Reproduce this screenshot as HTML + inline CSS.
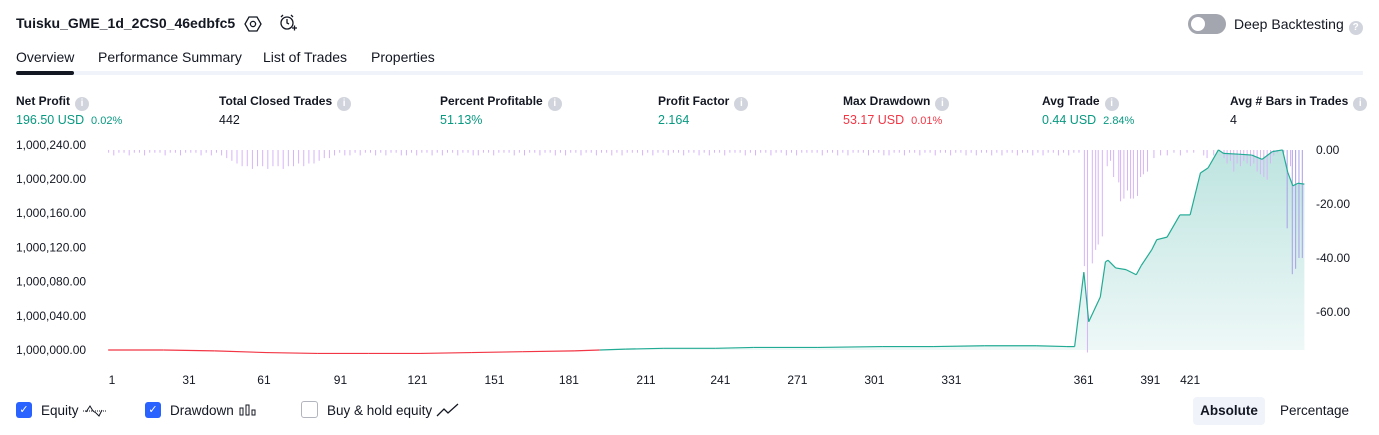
<!DOCTYPE html>
<html><head><meta charset="utf-8">
<style>
body{margin:0;width:1379px;height:435px;background:#fff;font-family:"Liberation Sans","DejaVu Sans",sans-serif;color:#131722;overflow:hidden;position:relative}
.abs{position:absolute;white-space:nowrap}
.title{left:16px;top:15px;font-size:14px;font-weight:bold}
.tab{top:49px;font-size:14px;color:#131722}
.lbl{top:94px;font-size:12px;font-weight:bold;color:#131722}
.val{top:113px;font-size:12.5px}
.info{display:inline-block;width:14px;height:14px;border-radius:50%;background:#d1d4dc;color:#fff;font-size:10px;text-align:center;line-height:14px;margin-left:5px;vertical-align:-1px;font-weight:bold}
.g{color:#089981}.r{color:#f23645}
.cb{width:16px;height:16px;border-radius:3px;display:inline-block;vertical-align:middle;margin-right:9px;margin-top:-3px}
.leg{top:402px;font-size:13.5px;line-height:18px}
</style></head><body>
<div class="abs title">Tuisku_GME_1d_2CS0_46edbfc5</div>
<svg class="abs" style="left:244px;top:15px" width="18" height="18"><polygon points="5,2 13,2 17,9 13,16 5,16 1,9" fill="none" stroke="#131722" stroke-width="1.3"/><circle cx="9" cy="9" r="2.6" fill="none" stroke="#131722" stroke-width="1.3"/></svg>
<svg class="abs" style="left:278px;top:13px" width="20" height="20"><circle cx="9" cy="10" r="6" fill="none" stroke="#131722" stroke-width="1.3"/><path d="M9 6v4l2 1M3 4l2-2M15 4l-2-2M14 15h5M16.5 12.5v5" stroke="#131722" stroke-width="1.3" fill="none"/></svg>
<div class="abs" style="left:1188px;top:14px;width:38px;height:20px;border-radius:10px;background:#a3a6af"><div style="position:absolute;left:3px;top:3px;width:14px;height:14px;border-radius:50%;background:#fff"></div></div>
<div class="abs" style="left:1234px;top:16px;font-size:14px">Deep Backtesting<span class="info">?</span></div>

<div class="abs tab" style="left:16px">Overview</div>
<div class="abs tab" style="left:98px">Performance Summary</div>
<div class="abs tab" style="left:263px">List of Trades</div>
<div class="abs tab" style="left:371px">Properties</div>
<div class="abs" style="left:16px;top:71px;width:1347px;height:4px;background:#f0f3fa"></div>
<div class="abs" style="left:16px;top:71px;width:58px;height:4px;border-radius:2px;background:#131722"></div>

<div class="abs lbl" style="left:16px">Net Profit<span class="info">i</span></div>
<div class="abs val g" style="left:16px">196.50 USD&nbsp; <span style="font-size:11px">0.02%</span></div>
<div class="abs lbl" style="left:219px">Total Closed Trades<span class="info">i</span></div>
<div class="abs val" style="left:219px">442</div>
<div class="abs lbl" style="left:440px">Percent Profitable<span class="info">i</span></div>
<div class="abs val g" style="left:440px">51.13%</div>
<div class="abs lbl" style="left:658px">Profit Factor<span class="info">i</span></div>
<div class="abs val g" style="left:658px">2.164</div>
<div class="abs lbl" style="left:843px">Max Drawdown<span class="info">i</span></div>
<div class="abs val r" style="left:843px">53.17 USD&nbsp; <span style="font-size:11px">0.01%</span></div>
<div class="abs lbl" style="left:1042px">Avg Trade<span class="info">i</span></div>
<div class="abs val g" style="left:1042px">0.44 USD&nbsp; <span style="font-size:11px">2.84%</span></div>
<div class="abs lbl" style="left:1230px">Avg # Bars in Trades<span class="info">i</span></div>
<div class="abs val" style="left:1230px">4</div>

<svg id="chart" class="abs" style="left:0;top:0" width="1379" height="400">
<defs><linearGradient id="fillg" x1="0" y1="0" x2="0" y2="1"><stop offset="0" stop-color="#26a69a" stop-opacity="0.3"/><stop offset="1" stop-color="#26a69a" stop-opacity="0.08"/></linearGradient></defs>
</svg>

<div class="abs leg" style="left:16px"><span class="cb" style="background:#2962ff;color:#fff;font-size:11px;text-align:center;line-height:16px">✓</span>Equity <svg width="26" height="14" style="vertical-align:-2px"><path d="M1 8h24" stroke="#131722" stroke-dasharray="1 1"/><path d="M4 9l4-6 3 5 3 2 3 3 3-6" fill="none" stroke="#131722"/></svg></div>
<div class="abs leg" style="left:145px"><span class="cb" style="background:#2962ff;color:#fff;font-size:11px;text-align:center;line-height:16px">✓</span>Drawdown <svg width="20" height="14" style="vertical-align:-2px"><rect x="2" y="5" width="3" height="7" fill="none" stroke="#131722"/><rect x="8" y="2" width="3" height="10" fill="none" stroke="#131722"/><rect x="14" y="7" width="3" height="5" fill="none" stroke="#131722"/></svg></div>
<div class="abs leg" style="left:301px"><span class="cb" style="border:1px solid #b2b5be;width:15px;height:15px"></span>Buy &amp; hold equity <svg width="24" height="14" style="vertical-align:-2px"><path d="M1 13l7-7 4 4 10-9" fill="none" stroke="#131722" stroke-width="1.3"/></svg></div>
<div class="abs" style="left:1193px;top:397px;width:72px;height:28px;border-radius:4px;background:#f0f3fa;font-size:13.5px;font-weight:bold;text-align:center;line-height:28px">Absolute</div>
<div class="abs" style="left:1280px;top:403px;font-size:13.5px">Percentage</div>

<script>
const leftTicks=[0,40,80,120,160,200,240];
const leftTickLabels=["1,000,000.00","1,000,040.00","1,000,080.00","1,000,120.00","1,000,160.00","1,000,200.00","1,000,240.00"];
const rightTicks=[0,-20,-40,-60];
const xTickLabels=["1","31","61","91","121","151","181","211","241","271","301","331","361","391","421"];
const xTickTimes=[0,30,59.2,89,119,149,178,208,237,267,297,327,378.5,404.5,420];
const eqTimes=[-1.5,20,40,60,80,100,120,140,160,180,190,200,215,235,250,275,300,320,340,360,372,375,378.6,380.5,385,387,388,391,395,399,401,405,407,411,416,420,424,427,431,433,439,444,448,452,456,458,460,462,464.5];
const eqValues=[0,0,-1,-3,-4,-4,-4,-3,-2,-1,0,1,2,2,3,3,4,4,5,5,4,4,91,33,62,103,105,96,94,88,99,117,129,132,158,158,207,213,234,230,229,228,223,232,234,208,192,195,194];
const ddBase=[1,2,1,1,2,1,1,2,1,1,1,2,1,1,2,1,1,1,2,1,2,1,2,3,
4,5,6,6,7,6,6,7,6,6,7,6,6,5,6,5,5,4,3,3,
2,1,2,2,1,2,1,1,2,1,2,1,1,2,2,1,2,1,1,2,1,2,1,1,2,1,1,2,2,1,1,2,1,1,1,2,1,2,1,1,2,1,1,2,1,2,1,1,2,1,1,2,1,1,2,1,2,1,1,1,2,1,2,1,1,2,1,1,2,1,1,2,1,2,1,1,2,1,1,1,2,1,2,1,1,2,1,1,2,1,2,1,1,1,1,2,1,1,2,1,2,1,1,1,2,1,1,2,2,1,1,2,1,1,2,1,1,2,1,1,2,1,1,2,1,
2,1,1,2,1,2,1,1,2,1,1,2,1,2,1,1,2,1,2,1,1,2,1,1];
const ddTimes=[],ddValues=[];
for(let i=0;i<ddBase.length;i++){ddTimes.push(-1.5+i*2);ddValues.push(-ddBase[i]);}
const ddTailTimes=[378.6,379.8,381.7,383,384,385.6,387.5,388.8,390,392,392.7,394,395.4,396.6,397.7,399.3,400.5,401.6,403.2,405.7,408.3,410.9,413.5,416,418.6,421.2,425.1,426.4,429,433,434.2,435.5,436.8,438.1,439.4,440.7,442,443.3,444.6,445.9,447.2,448.5,449.8,451.1,452.4,453.7,456.3,457.6,458.9,459.6,460.9,462.2,463.5];
const ddTailValues=[-43,-75,-42,-37,-35,-32,-6,-4,-10,-12,-19,-18,-15,-18,-18,-17,-10,-9,-8,-3,-2,-2,-1,-2,-1,-1,-2,-3,-2,-3,-5,-4,-8,-5,-6,-4,-5,-6,-5,-8,-9,-10,-11,-5,-2,-1,-1,-29,-6,-46,-44,-40,-40];

const NS="http://www.w3.org/2000/svg";
const svg=document.getElementById('chart');
const X=t=>112+t*2.567;
const YL=v=>350-v*34.2/40;
const YR=d=>150-d*2.7;
function mk(tag,attrs){const e=document.createElementNS(NS,tag);for(const k in attrs)e.setAttribute(k,attrs[k]);svg.appendChild(e);return e;}

leftTicks.forEach((v,i)=>{const t=mk('text',{x:16,y:YL(v)+4,'font-size':12,fill:'#131722'});t.textContent=leftTickLabels[i];

});
rightTicks.forEach(v=>{const t=mk('text',{x:1316,y:YR(v)+4,'font-size':12,fill:'#131722'});t.textContent=v.toFixed(2);

});
xTickLabels.forEach((l,i)=>{const t=mk('text',{x:X(xTickTimes[i]),y:384,'font-size':12,fill:'#131722','text-anchor':'middle'});t.textContent=l;

});

let d='M'+X(eqTimes[0])+' '+YL(0);
eqTimes.forEach((t,i)=>{d+=' L'+X(t)+' '+Math.min(YL(eqValues[i]),YL(0));});
d+=' L'+X(eqTimes[eqTimes.length-1])+' '+YL(0)+' Z';
const area=mk('path',{d:d,fill:'url(#fillg)'});



const allT=ddTimes.concat(ddTailTimes),allV=ddValues.concat(ddTailValues);
allT.forEach((t,i)=>{if(t>377.5&&i<ddTimes.length)return;const y0=YR(0),y1=YR(allV[i]);const r=mk('rect',{x:X(t),y:y0,width:1,height:Math.max(1,y1-y0),fill:t>455&&allV[i]<-20?'#a89ee8':'#d6b4f7'});

});

for(let i=1;i<eqTimes.length;i++){const v=(eqValues[i]+eqValues[i-1])/2;
const l=mk('line',{x1:X(eqTimes[i-1]),y1:YL(eqValues[i-1]),x2:X(eqTimes[i]),y2:YL(eqValues[i]),stroke:v<0||(v===0&&eqTimes[i]<195)?'#f23645':'#22ab94','stroke-width':1.2});

}
</script>
</body></html>
